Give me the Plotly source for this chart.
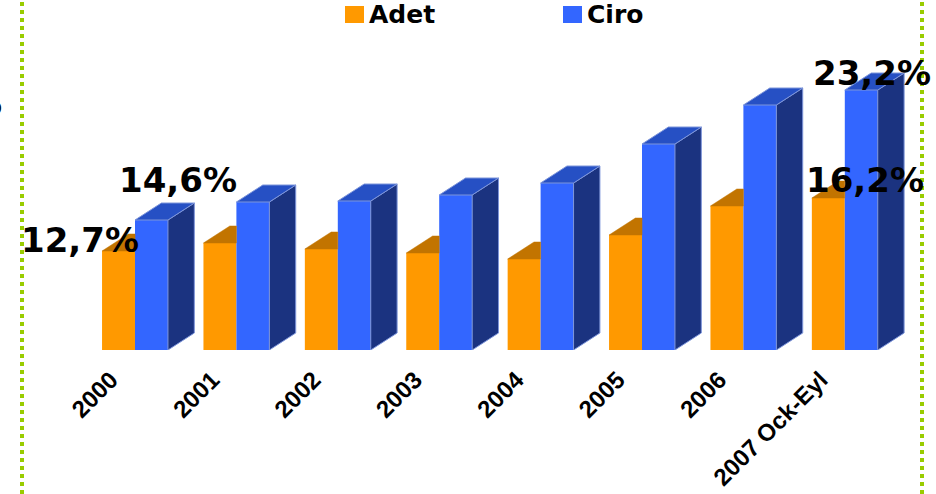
import plotly.graph_objects as go

# ---- data ----
categories = ["2000", "2001", "2002", "2003", "2004", "2005", "2006", "2007 Ock-Eyl"]
adet = [99, 107, 101, 97, 91, 115, 144, 152]
ciro = [130, 148, 149, 155, 167, 206, 245, 260]
adet_labels = ["12,7%", "", "", "", "", "", "", "16,2%"]
ciro_labels = ["14,6%", "", "", "", "", "", "", "23,2%"]
series_names = ["Adet", "Ciro"]

# ---- style ----
W = 0.325          # bar width (x units)
DX = 0.26          # 3D depth in x units
DY = 17            # 3D depth in y units
ORANGE, ORANGE_TOP = "#FF9900", "#C27400"
BLUE, BLUE_TOP, BLUE_SIDE, EDGE = "#3366FF", "#2650C4", "#1B3380", "#7D95DA"
GREEN = "#99CC00"
LABEL_FONT = dict(family="DejaVu Sans, Verdana", size=34, color="black", weight="bold")

xs = list(range(len(categories)))

fig = go.Figure()

# front faces
fig.add_bar(x=[x - W / 2 for x in xs], y=adet, width=W, name=series_names[0],
            marker=dict(color=ORANGE, line=dict(width=0)), showlegend=False, hoverinfo="skip")

# orange top (visible part only)
tx, ty = [], []
for x, h in zip(xs, adet):
    tx += [x - W, x - W + DX, x, x, x - W, None]
    ty += [h, h + DY, h + DY, h, h, None]
fig.add_scatter(x=tx, y=ty, fill="toself", fillcolor=ORANGE_TOP, mode="lines",
                line=dict(color=ORANGE_TOP, width=0.5), showlegend=False, hoverinfo="skip")

fig.add_bar(x=[x + W / 2 for x in xs], y=ciro, width=W, name=series_names[1],
            marker=dict(color=BLUE, line=dict(width=0)), showlegend=False, hoverinfo="skip")

# blue side faces
sx, sy = [], []
for x, h in zip(xs, ciro):
    sx += [x + W, x + W + DX, x + W + DX, x + W, x + W, None]
    sy += [0, DY, h + DY, h, 0, None]
fig.add_scatter(x=sx, y=sy, fill="toself", fillcolor=BLUE_SIDE, mode="lines",
                line=dict(color=EDGE, width=1), showlegend=False, hoverinfo="skip")

# blue top faces
bx, by = [], []
for x, h in zip(xs, ciro):
    bx += [x, x + DX, x + W + DX, x + W, x, None]
    by += [h, h + DY, h + DY, h, h, None]
fig.add_scatter(x=bx, y=by, fill="toself", fillcolor=BLUE_TOP, mode="lines",
                line=dict(color=EDGE, width=1), showlegend=False, hoverinfo="skip")

# value labels
adet_shift = {0: (-39, 11), 7: (37, 18)}
ciro_shift = {0: (27, 40), 7: (11, 17)}
for i, (x, h, t) in enumerate(zip(xs, adet, adet_labels)):
    if t:
        dxs, dys = adet_shift.get(i, (0, 15))
        fig.add_annotation(x=x - W / 2, y=h, text=t, showarrow=False, xshift=dxs, yshift=dys,
                           xanchor="center", yanchor="middle", font=LABEL_FONT)
for i, (x, h, t) in enumerate(zip(xs, ciro, ciro_labels)):
    if t:
        dxs, dys = ciro_shift.get(i, (0, 15))
        fig.add_annotation(x=x + W / 2, y=h, text=t, showarrow=False, xshift=dxs, yshift=dys,
                           xanchor="center", yanchor="middle", font=LABEL_FONT)

# page geometry helpers (plot area: full width, 350 px tall from the top)
PW, PH = 936, 350
def px(xp):
    return xp / PW
def py(yp):
    return (PH - yp) / PH

# custom legend
legend_items = [(series_names[0], ORANGE, 345), (series_names[1], BLUE, 563)]
for name, col, x0 in legend_items:
    fig.add_shape(type="rect", xref="paper", yref="paper", x0=px(x0), x1=px(x0 + 19),
                  y0=py(23), y1=py(6), fillcolor=col, line=dict(width=0))
    fig.add_annotation(xref="paper", yref="paper", x=px(x0 + 22), y=py(14), text=name,
                       showarrow=False, xanchor="left", yanchor="middle",
                       font=dict(family="DejaVu Sans, Verdana", size=25, color="black", weight="bold"))

# dotted frame lines
for xl in (22, 922):
    fig.add_shape(type="line", xref="paper", yref="paper", x0=px(xl), x1=px(xl),
                  y0=py(494), y1=py(0), line=dict(color=GREEN, width=4, dash="dot"))

# text that the reference shows cut off at the left edge
fig.add_annotation(xref="paper", yref="paper", x=px(4), y=py(103), text="%", showarrow=False,
                   xanchor="right", yanchor="middle", font=LABEL_FONT)

fig.update_layout(
    width=936, height=494,
    margin=dict(l=0, r=0, t=0, b=494 - PH),
    paper_bgcolor="white", plot_bgcolor="white",
    barmode="overlay",
    showlegend=False,
    xaxis=dict(range=[-135 / 101.4, (936 - 135) / 101.4], showgrid=False, zeroline=False,
               showline=False, ticks="", tickvals=xs, ticktext=categories, tickangle=-45,
               tickfont=dict(family="Liberation Sans, Arial", size=24, color="black", weight="bold"),
               ticklabelshift=-24, ticklabelstandoff=10, fixedrange=True),
    yaxis=dict(range=[0, PH], visible=False, fixedrange=True),
)

fig.write_html("out.html", config={"displayModeBar": False},
               post_script="document.body.style.margin='0';document.body.style.overflow='hidden';")
